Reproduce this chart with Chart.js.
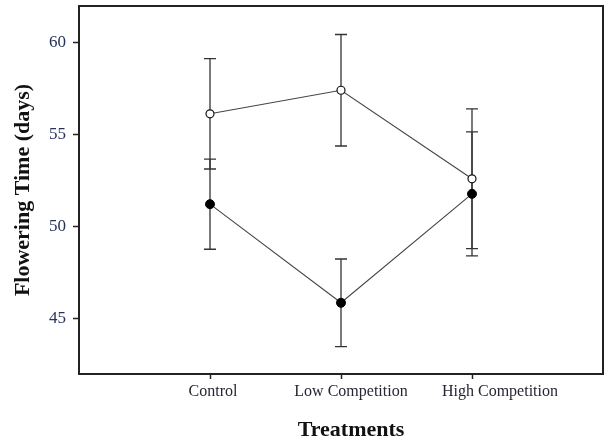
<!DOCTYPE html>
<html>
<head>
<meta charset="utf-8">
<script src="https://cdn.jsdelivr.net/npm/chart.js@4.4.1/dist/chart.umd.min.js"></script>
<style>
    html, body { margin: 0; padding: 0; background: #fff; }
</style>
</head>
<body>
<canvas id="myChart" width="613" height="443"></canvas>
<script>
// Valores
var categories = ['Control', 'Low Competition', 'High Competition'];
var openMeans = [56.14, 57.42, 52.61];    // círculos abertos
var openErr = [3.0, 3.03, 3.8];
var filledMeans = [51.23, 45.87, 51.79];  // círculos cheios
var filledErr = [2.45, 2.38, 3.37];
var yTicks = [45, 50, 55, 60];

var serif = "'Liberation Serif', 'Times New Roman', serif";
var labelShift = [3, 10, 28];  // deslocamento dos rótulos do eixo x, como no original

function toPoints(values) {
    return values.map(function (v, i) { return { x: i, y: v }; });
}

// Barras de erro desenhadas antes dos pontos
var errorBars = {
    id: 'errorBars',
    beforeDatasetsDraw: function (chart) {
        var ctx = chart.ctx;
        var xs = chart.scales.x, ys = chart.scales.y;
        ctx.save();
        ctx.strokeStyle = '#333';
        ctx.lineWidth = 1.3;
        chart.data.datasets.forEach(function (ds) {
            ds.data.forEach(function (p, i) {
                var x = xs.getPixelForValue(p.x);
                var top = ys.getPixelForValue(p.y + ds.errors[i]);
                var bot = ys.getPixelForValue(p.y - ds.errors[i]);
                ctx.beginPath();
                ctx.moveTo(x, top); ctx.lineTo(x, bot);
                ctx.moveTo(x - 6, top); ctx.lineTo(x + 6, top);
                ctx.moveTo(x - 6, bot); ctx.lineTo(x + 6, bot);
                ctx.stroke();
            });
        });
        ctx.restore();
    }
};

// Moldura, rótulos das categorias e título do eixo x
var frame = {
    id: 'frame',
    afterDraw: function (chart) {
        var ctx = chart.ctx, a = chart.chartArea;
        var xs = chart.scales.x;
        ctx.save();
        ctx.strokeStyle = '#222';
        ctx.lineWidth = 2;
        ctx.beginPath();
        ctx.moveTo(a.left, a.top);
        ctx.lineTo(a.right, a.top);
        ctx.lineTo(a.right, a.bottom);
        ctx.stroke();

        ctx.fillStyle = '#262633';
        ctx.font = '16px ' + serif;
        ctx.textAlign = 'center';
        ctx.textBaseline = 'middle';
        categories.forEach(function (c, i) {
            ctx.fillText(c, xs.getPixelForValue(i) + labelShift[i], a.bottom + 18);
        });

        ctx.fillStyle = '#111';
        ctx.font = 'bold 22px ' + serif;
        ctx.fillText('Treatments', (a.left + a.right) / 2 + 10, a.bottom + 56);
        ctx.restore();
    }
};

var ctx = document.getElementById('myChart').getContext('2d');
var chart = new Chart(ctx, {
    type: 'line',
    data: {
        datasets: [{
            label: 'open',
            data: toPoints(openMeans),
            errors: openErr,
            borderColor: '#444',
            borderWidth: 1.1,
            pointRadius: 4,
            pointBackgroundColor: '#fff',
            pointBorderColor: '#111',
            pointBorderWidth: 1.2,
            tension: 0
        }, {
            label: 'filled',
            data: toPoints(filledMeans),
            errors: filledErr,
            borderColor: '#444',
            borderWidth: 1.1,
            pointRadius: 4.5,
            pointBackgroundColor: '#000',
            pointBorderColor: '#000',
            pointBorderWidth: 1,
            tension: 0
        }]
    },
    options: {
        responsive: false,
        animation: false,
        layout: { padding: { top: 6, right: 10, left: 0, bottom: 0 } },
        plugins: {
            legend: { display: false },
            tooltip: { enabled: false }
        },
        scales: {
            x: {
                type: 'linear',
                min: -1,
                max: 3,
                afterBuildTicks: function (axis) {
                    axis.ticks = categories.map(function (c, i) { return { value: i }; });
                },
                afterFit: function (axis) {
                    axis.height = 69;
                    axis.paddingLeft = 0;
                    axis.paddingRight = 0;
                },
                grid: { drawOnChartArea: false, drawTicks: true, tickLength: 5, tickColor: '#222', tickWidth: 1.5 },
                border: { display: true, color: '#222', width: 2 },
                ticks: { display: false }
            },
            y: {
                min: 42,
                max: 62,
                afterBuildTicks: function (axis) {
                    axis.ticks = yTicks.map(function (v) { return { value: v }; });
                },
                afterFit: function (axis) {
                    axis.width = 79;
                    axis.paddingTop = 0;
                    axis.paddingBottom = 0;
                },
                grid: { drawOnChartArea: false, drawTicks: true, tickLength: 6, tickColor: '#222', tickWidth: 1.5 },
                border: { display: true, color: '#222', width: 2 },
                ticks: {
                    color: '#26325a',
                    font: { family: serif, size: 17 },
                    padding: 7
                },
                title: {
                    display: true,
                    text: 'Flowering Time (days)',
                    color: '#111',
                    font: { family: serif, size: 22, weight: 'bold' },
                    padding: { top: 10, bottom: 0 }
                }
            }
        }
    },
    plugins: [errorBars, frame]
});
</script>
</body>
</html>
